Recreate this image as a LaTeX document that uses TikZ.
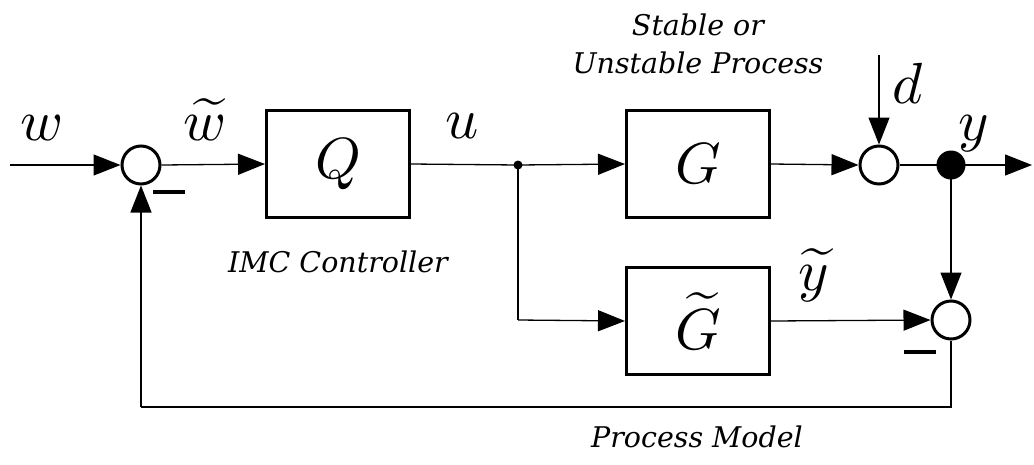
\documentclass[tikz,border=0pt]{standalone}
\usepackage{fontspec}
\newfontfamily\notefont{DejaVu Serif}
\usetikzlibrary{arrows.meta}
% scalable math italic and math extension fonts
\DeclareFontShape{OML}{cmm}{m}{it}{<->cmmi10}{}
\DeclareFontShape{OMX}{cmex}{m}{n}{<->cmex10}{}
\DeclareFontShape{OMS}{cmsy}{m}{n}{<->cmsy10}{}
\begin{document}
\begin{tikzpicture}[x=1pt,y=-1pt,
  wire/.style={line width=1.3pt},
  sig/.style={line width=1.3pt,-{Triangle[length=27pt,width=21pt]}},
  blockbox/.style={draw,line width=3pt,minimum width=143pt,minimum height=107pt,inner sep=0pt},
  sumnode/.style={draw,circle,line width=3pt,minimum size=38pt,inner sep=0pt,fill=white},
  var/.style={font=\fontsize{58}{60}\selectfont,inner sep=0pt},
  note/.style={font=\notefont\itshape\fontsize{28.5}{38}\selectfont,align=center,inner sep=0pt},
  minus/.style={line width=3.2pt}]
\useasboundingbox (0,0) rectangle (1034,464);

% blocks and summing points
\node[sumnode] (s1) at (141,165) {};
\node[blockbox] (Q) at (338,164) {};
\node[blockbox] (G) at (698,164) {};
\node[blockbox] (Gm) at (698,321) {};
\node[sumnode] (s2) at (879,165) {};
\node[sumnode] (s3) at (951,320) {};
\node[circle,fill,inner sep=0pt,minimum size=29pt] (yd) at (951,165) {};
\node[circle,fill,inner sep=0pt,minimum size=9pt] (ud) at (518,165) {};

\node[var] at (Q.center) {$Q$};
\node[var] at (G.center) {$G$};
\node[var,anchor=base] at (698,349) {$\widetilde{G}$};

% free ends
\coordinate (win) at (10,165);
\coordinate (yout) at (1032,165);
\coordinate (din) at (879,55);
\coordinate (lowL) at (518,320);
\coordinate (fbR) at (951,407);
\coordinate (fbL) at (141,407);

% forward path
\draw[sig] (win) -- (s1.west);
\draw[sig] (s1.east) -- (Q.west);
\draw[wire] (Q.east) -- (ud.center);
\draw[sig] (ud.center) -- (G.west);
\draw[sig] (G.east) -- (s2.west);
\draw[sig] (din) -- (s2.north);
\draw[wire] (s2.east) -- (yd.center);
\draw[sig] (yd.center) -- (yout);

% model branch
\draw[wire] (ud.center) -- (lowL);
\draw[sig] (lowL) -- (Gm.west);
\draw[sig] (Gm.east) -- (s3.west);
\draw[sig] (yd.center) -- (s3.north);

% feedback
\draw[wire] (s3.south) -- (fbR) -- (fbL);
\draw[sig] (fbL) -- (s1.south);

% signs
\draw[minus] (153,192) -- (185,192);
\draw[minus] (904,352) -- (936,352);

% signal labels
\node[var,anchor=base] at (42,140) {$w$};
\node[var,anchor=base] at (205,140) {$\widetilde{w}$};
\node[var,anchor=base] at (462,138) {$u$};
\node[var,anchor=base] at (908,103) {$d$};
\node[var,anchor=base] at (974,140) {$y$};
\node[var,anchor=base] at (814,290) {$\widetilde{y}$};

% captions
\node[note] at (698,44) {Stable or\\Unstable Process};
\node[note] at (338,262) {IMC Controller};
\node[note] at (697,437) {Process Model};
\end{tikzpicture}
\end{document}
